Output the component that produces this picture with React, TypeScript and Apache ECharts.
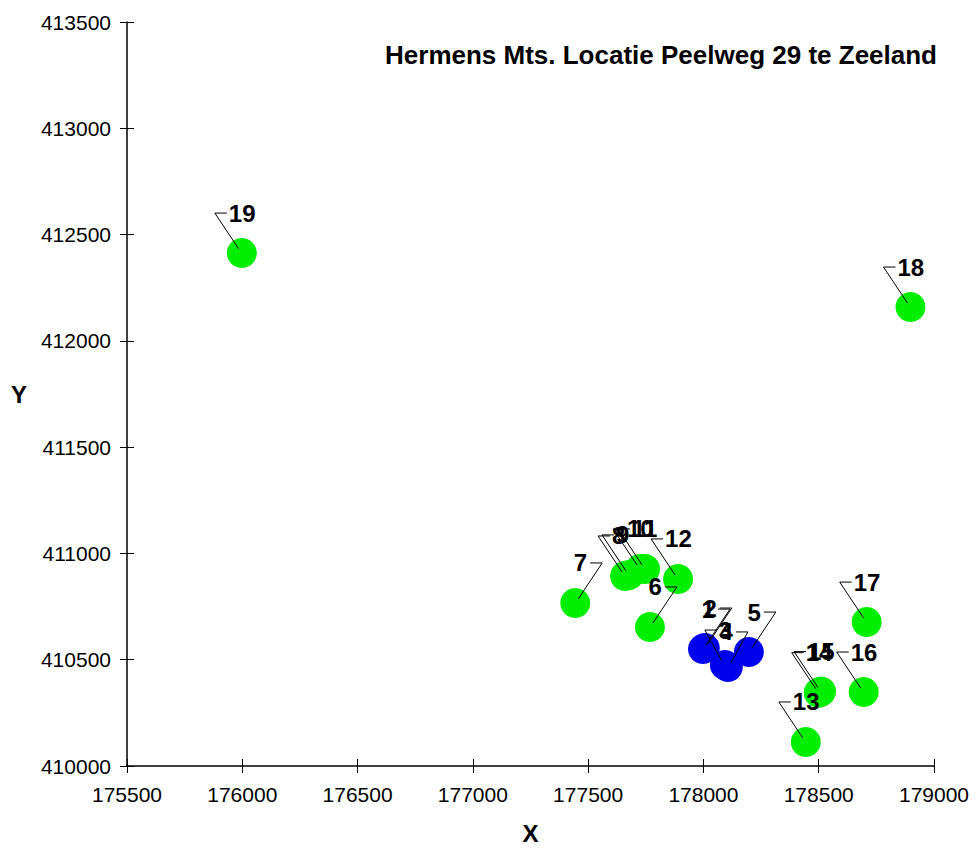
import React, { useEffect, useRef } from "react";
import * as echarts from "echarts";

const pointIds = ["1", "2", "3", "4", "5", "6", "7", "8", "9", "10", "11", "12", "13", "14", "15", "16", "17", "18", "19"];
const xValues = [177998, 178006, 178093, 178106, 178197, 177768, 177444, 177660, 177677, 177725, 177747, 177890, 178444, 178500, 178510, 178695, 178708, 178898, 175998];
const yValues = [410550, 410555, 410475, 410466, 410536, 410654, 410767, 410894, 410899, 410927, 410927, 410880, 410113, 410345, 410350, 410348, 410677, 412159, 412413];
const pointGroup = ["blue", "blue", "blue", "blue", "blue", "green", "green", "green", "green", "green", "green", "green", "green", "green", "green", "green", "green", "green", "green"];
// label side: -1 = label up-left of the point, 1 = label up-right
const labelSide = [1, 1, -1, 1, 1, 1, 1, -1, -1, -1, -1, -1, -1, -1, -1, -1, -1, -1, -1];
// leader reach in pixels (horizontal, vertical)
const labelReachX = [27, 27, 20, 20, 27, 27, 27, 27, 27, 27, 27, 27, 27, 27, 27, 27, 27, 27, 27];
const labelReachY = [40, 40, 35, 35, 40, 40, 40, 40, 40, 40, 40, 40, 40, 40, 40, 40, 40, 40, 40];

const xTicks = { min: 175500, max: 179000, interval: 500 };
const yTicks = { min: 410000, max: 413500, interval: 500 };
const titleText = "Hermens Mts. Locatie Peelweg 29 te Zeeland";

export default function App() {
  const ref = useRef<HTMLDivElement>(null);
  useEffect(() => {
    if (!ref.current) return;
    const chart = echarts.init(ref.current, null, { renderer: "svg" });
    const pts = pointIds.map((id, i) => [xValues[i], yValues[i], id]);
    const green = pts.filter((_, i) => pointGroup[i] === "green");
    const blue = pts.filter((_, i) => pointGroup[i] === "blue");
    const font = "Arial, 'Liberation Sans', sans-serif";
    const grid = { left: 127, right: 45, top: 22, bottom: 86 };
    const plain = (v: number) => String(v);
    chart.setOption({
      animation: false,
      backgroundColor: "#ffffff",
      title: {
        text: titleText,
        right: 37,
        top: 37,
        textStyle: { fontFamily: font, fontSize: 26, fontWeight: "bold", color: "#000" },
      },
      grid,
      xAxis: [
        {
          type: "value",
          ...xTicks,
          name: "X",
          nameLocation: "middle",
          nameGap: 55,
          nameTextStyle: { fontFamily: font, fontSize: 24, fontWeight: "bold", color: "#000" },
          axisLine: { show: true, lineStyle: { color: "#000", width: 1.5 } },
          axisTick: { show: true, length: 7, lineStyle: { color: "#000" } },
          axisLabel: { fontFamily: font, fontSize: 21, color: "#000", margin: 18, formatter: plain },
          splitLine: { show: false },
        },
        {
          type: "value",
          ...xTicks,
          position: "bottom",
          axisLine: { show: false },
          axisTick: { show: true, inside: true, length: 7, lineStyle: { color: "#000" } },
          axisLabel: { show: false },
          splitLine: { show: false },
        },
      ],
      yAxis: [
        {
          type: "value",
          ...yTicks,
          name: "Y",
          nameLocation: "middle",
          nameRotate: 0,
          nameGap: 100,
          nameTextStyle: { fontFamily: font, fontSize: 24, fontWeight: "bold", color: "#000" },
          axisLine: { show: true, lineStyle: { color: "#000", width: 1.5 } },
          axisTick: { show: true, length: 7, lineStyle: { color: "#000" } },
          axisLabel: { fontFamily: font, fontSize: 21, color: "#000", margin: 16, formatter: plain },
          splitLine: { show: false },
        },
        {
          type: "value",
          ...yTicks,
          position: "left",
          axisLine: { show: false },
          axisTick: { show: true, inside: true, length: 7, lineStyle: { color: "#000" } },
          axisLabel: { show: false },
          splitLine: { show: false },
        },
      ],
      series: [
        {
          type: "scatter",
          data: green,
          symbolSize: 30,
          itemStyle: { color: "#00ee00", opacity: 1 },
          z: 2,
        },
        {
          type: "scatter",
          data: blue,
          symbolSize: 30,
          itemStyle: { color: "#0000ee", opacity: 1 },
          z: 3,
        },
        {
          type: "custom",
          data: pts,
          z: 10,
          renderItem: (params: any, api: any) => {
            const p = api.coord([api.value(0), api.value(1)]);
            const i = params.dataIndex;
            const id = pointIds[i];
            const s = labelSide[i];
            const rx = labelReachX[i];
            const cx = p[0] + s * rx;
            const cy = p[1] - labelReachY[i];
            const barEnd = cx - s * 12;
            return {
              type: "group",
              children: [
                {
                  type: "polyline",
                  shape: { points: [[p[0] + s * 3, p[1] - 4], [cx, cy], [barEnd, cy]] },
                  style: { stroke: "#000", lineWidth: 1, fill: null },
                },
                {
                  type: "text",
                  x: s < 0 ? barEnd + 2 : barEnd - 3,
                  y: cy,
                  style: {
                    text: id,
                    fontFamily: font,
                    fontSize: 24,
                    fontWeight: "bold",
                    fill: "#000",
                    align: s < 0 ? "left" : "right",
                    verticalAlign: "middle",
                  },
                },
              ],
            };
          },
        },
      ],
    });
    return () => chart.dispose();
  }, []);
  return <div ref={ref} style={{ width: 979, height: 852, position: "absolute", left: 0, top: 0 }} />;
}
